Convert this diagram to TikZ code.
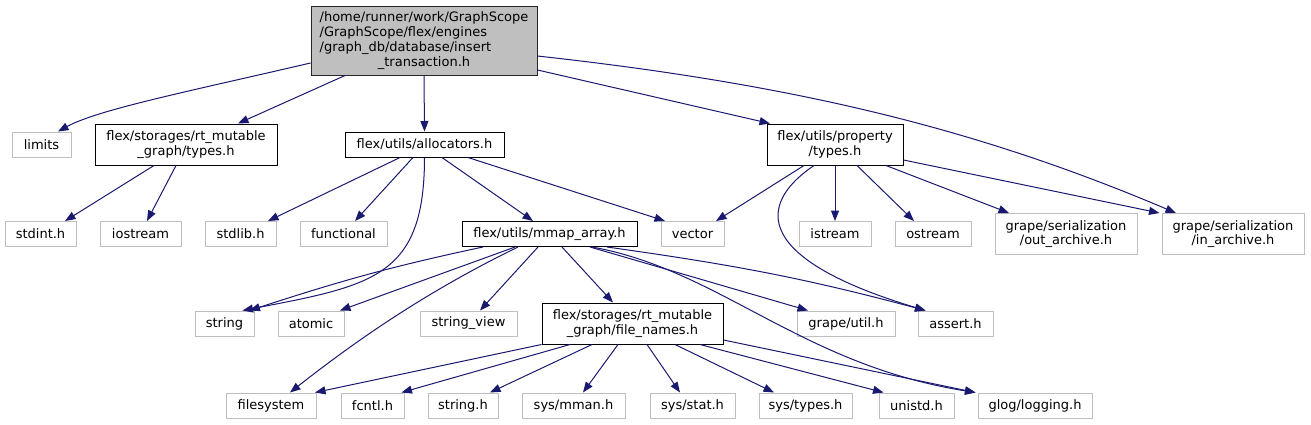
\documentclass[tikz,border=0pt]{standalone}
\usepackage{fontspec}
\setmainfont{DejaVu Sans}
\usetikzlibrary{arrows.meta}
\definecolor{edgeblue}{HTML}{191970}
\definecolor{lgray}{HTML}{BFBFBF}
\begin{document}
\begin{tikzpicture}[x=1pt,y=-1pt,
  every node/.style={inner sep=0pt, font=\fontsize{13}{14.5}\selectfont, align=center, line width=1pt},
  gbox/.style={draw=lgray, minimum width=#1, minimum height=25pt},
  gboxtwo/.style={draw=lgray, minimum width=#1, minimum height=41pt},
  bbox/.style={draw=black, minimum width=#1, minimum height=25pt},
  bboxtwo/.style={draw=black, minimum width=#1, minimum height=41pt},
  rootbox/.style={draw=black!85, fill=lgray, minimum width=226pt, minimum height=69pt, font=\fontsize{13}{15}\selectfont},
  dep/.style={draw=edgeblue, line width=1pt, -{Triangle[length=10.5pt,width=8pt]}}]
\useasboundingbox (0,0) rectangle (1311,424);
% row 0
\node[rootbox] (root) at (424,40.5) {\begin{tabular}{@{}l@{}}/home/runner/work/GraphScope\\/GraphScope/flex/engines\\/graph\_db/database/insert\\\multicolumn{1}{@{}c@{}}{\_transaction.h}\end{tabular}};
% row 1
\node[gbox=59pt] (limits) at (41.5,144.5) {limits};
\node[bboxtwo=182pt] (rttypes) at (186,144.5) {flex/storages/rt\_mutable\\\_graph/types.h};
\node[bbox=159pt] (alloc) at (424.5,144.5) {flex/utils/allocators.h};
\node[bboxtwo=136pt] (prop) at (835,144.5) {flex/utils/property\\/types.h};
% row 2
\node[gbox=71pt] (stdint) at (40.5,234) {stdint.h};
\node[gbox=81pt] (iostream) at (140.5,234) {iostream};
\node[gbox=71pt] (stdlib) at (240.5,234) {stdlib.h};
\node[gbox=87pt] (functional) at (343.5,234) {functional};
\node[bbox=175pt] (mmap) at (549.5,234) {flex/utils/mmap\_array.h};
\node[gbox=63pt] (vector) at (692.5,234) {vector};
\node[gbox=72pt] (istream) at (835,234) {istream};
\node[gbox=76pt] (ostream) at (933,234) {ostream};
\node[gboxtwo=142pt] (outarch) at (1066,234) {grape/serialization\\/out\_archive.h};
\node[gboxtwo=142pt] (inarch) at (1233,234) {grape/serialization\\/in\_archive.h};
% row 3
\node[gbox=59pt] (string) at (224.5,323.5) {string};
\node[gbox=66pt] (atomic) at (311,323.5) {atomic};
\node[gbox=97pt] (sview) at (468.5,323.5) {string\_view};
\node[bboxtwo=181pt] (fnames) at (632.5,323.5) {flex/storages/rt\_mutable\\\_graph/file\_names.h};
\node[gbox=98pt] (gutil) at (846,323.5) {grape/util.h};
\node[gbox=75pt] (assert) at (955.5,323.5) {assert.h};
% row 4
\node[gbox=90pt] (fsys) at (271,405.5) {filesystem};
\node[gbox=63pt] (fcntl) at (372.5,405.5) {fcntl.h};
\node[gbox=70pt] (stringh) at (463,405.5) {string.h};
\node[gbox=103pt] (mman) at (573.5,405.5) {sys/mman.h};
\node[gbox=85pt] (stat) at (692.5,405.5) {sys/stat.h};
\node[gbox=93pt] (systypes) at (805.5,405.5) {sys/types.h};
\node[gbox=75pt] (unistd) at (916.5,405.5) {unistd.h};
\node[gbox=114pt] (glog) at (1035,405.5) {glog/logging.h};
% root edges
\draw[dep] ([yshift=-22.5pt]root.west) .. controls +(-120,28) and +(40,-22) .. ([xshift=16.5pt]limits.north);
\draw[dep] ([xshift=-79pt]root.south) -- ([xshift=52pt]rttypes.north);
\draw[dep] (root.south) -- (alloc.north);
\draw[dep] ([yshift=-29.5pt]root.east) -- ([xshift=-65pt]prop.north);
\draw[dep] ([yshift=-15.5pt]root.east) .. controls +(263,29) and +(-196,-83) .. ([xshift=-57pt]inarch.north);
% rt types edges
\draw[dep] ([xshift=-32pt]rttypes.south) -- ([xshift=24.5pt]stdint.north);
\draw[dep] ([xshift=-10pt]rttypes.south) -- ([xshift=6.5pt]iostream.north);
% allocators edges
\draw[dep] ([xshift=-24.5pt]alloc.south) -- ([xshift=27.5pt]stdlib.north);
\draw[dep] ([xshift=-11.5pt]alloc.south) -- ([xshift=11.5pt]functional.north);
\draw[dep] ([xshift=17.5pt]alloc.south) -- ([xshift=-16.5pt]mmap.north);
\draw[dep] ([xshift=43.5pt]alloc.south) -- ([xshift=-27.5pt]vector.north);
\draw[dep] (alloc.south) .. controls +(0,120) and +(130,-25) .. ([xshift=18pt]string.north);
% property types edges
\draw[dep] ([xshift=-31pt]prop.south) -- ([xshift=23.5pt]vector.north);
\draw[dep] ([xshift=-21pt]prop.south) .. controls +(-59,40) and +(-170,-51) .. ([xshift=-30pt]assert.north);
\draw[dep] (prop.south) -- (istream.north);
\draw[dep] ([xshift=22pt]prop.south) -- ([xshift=-19pt]ostream.north);
\draw[dep] ([xshift=51pt]prop.south) -- ([xshift=-57pt]outarch.north);
\draw[dep] ([yshift=-15.5pt]prop.east) -- ([xshift=-2pt]inarch.north west);
% mmap edges
\draw[dep] ([xshift=-66.5pt]mmap.south) to[out=192,in=18] ([xshift=25pt]string.north);
\draw[dep] ([xshift=-34.5pt]mmap.south) -- ([xshift=29pt]atomic.north);
\draw[dep] ([xshift=-31.5pt]mmap.south) .. controls +(-78,38) and +(80,-63) .. ([xshift=19pt]fsys.north);
\draw[dep] ([xshift=-11.5pt]mmap.south) -- ([xshift=11.5pt]sview.north);
\draw[dep] ([xshift=12.5pt]mmap.south) -- ([xshift=-19.5pt]fnames.north);
\draw[dep] ([xshift=40.5pt]mmap.south) -- ([xshift=-38pt]gutil.north);
\draw[dep] ([xshift=57.5pt]mmap.south) to[out=-8,in=165] ([xshift=-30pt]assert.north);
\draw[dep] ([xshift=42.5pt]mmap.south) .. controls +(128,23) and +(-175,-28) .. ([xshift=-2pt]glog.north west);
% file names edges
\draw[dep] (fnames.south west) -- ([xshift=44pt]fsys.north);
\draw[dep] ([xshift=-62.5pt]fnames.south) -- ([xshift=-3pt]fcntl.north east);
\draw[dep] ([xshift=-40.5pt]fnames.south) -- ([xshift=27pt]stringh.north);
\draw[dep] ([xshift=-14.5pt]fnames.south) -- ([xshift=9.5pt]mman.north);
\draw[dep] ([xshift=14.5pt]fnames.south) -- ([xshift=-12.5pt]stat.north);
\draw[dep] ([xshift=42.5pt]fnames.south) -- ([xshift=-31.5pt]systypes.north);
\draw[dep] ([xshift=67.5pt]fnames.south) -- ([xshift=-33pt]unistd.north);
\draw[dep] ([yshift=-16.5pt]fnames.east) -- ([xshift=-2pt]glog.north west);
\end{tikzpicture}
\end{document}
